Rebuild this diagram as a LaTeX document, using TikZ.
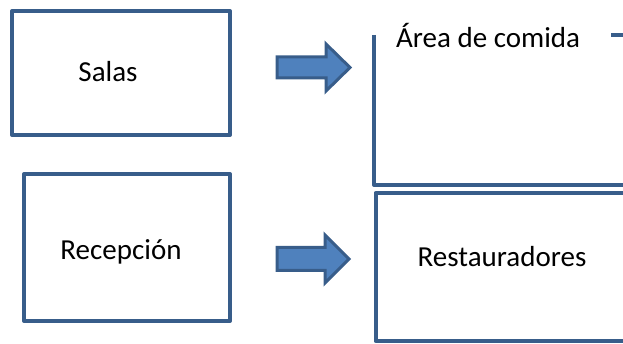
\documentclass[tikz,border=0pt]{standalone}
\usepackage{fontspec}
\setmainfont{Carlito}
\definecolor{boxline}{RGB}{56,93,138}
\definecolor{arrowfill}{RGB}{79,129,189}
\tikzset{
  frame/.style={draw=boxline, line width=4pt, line join=round, fill=white},
  edge/.style={draw=boxline, line width=4pt, line join=round},
  bigarrow/.style={draw=boxline, fill=arrowfill, line width=3pt, line join=miter},
  label/.style={font=\fontsize{29}{34}\selectfont, text=black, inner sep=0pt, anchor=base}
}
\begin{document}
\begin{tikzpicture}[x=1pt,y=-1pt]
\useasboundingbox (0,0) rectangle (623,344);
\clip (0,0) rectangle (623,344);
% left boxes
\node[frame, minimum width=218pt, minimum height=124pt, inner sep=0pt] (salasbox) at (121,73) {};
\node[frame, minimum width=206pt, minimum height=147pt, inner sep=0pt] (recbox) at (127,247.5) {};
\node[label] (salas) at (108,82) {Salas};
\node[label] (recepcion) at (121,260) {Recepción};
% arrows
\draw[bigarrow] (277,57) -- (326,57) -- (326,44) -- (350,67.5) -- (326,91) -- (326,78) -- (277,78) -- cycle;
\draw[bigarrow] (277,247.5) -- (325,247.5) -- (325,235) -- (349,259) -- (325,283) -- (325,270.5) -- (277,270.5) -- cycle;
% right boxes (cut off)
\coordinate (ac1) at (374,35);
\coordinate (ac2) at (374,185);
\coordinate (ac3) at (640,185);
\coordinate (at1) at (611,35);
\coordinate (at2) at (640,35);
\draw[edge] (ac1) -- (ac2) -- (ac3);
\draw[edge] (at1) -- (at2);
\coordinate (rs1) at (640,193);
\coordinate (rs2) at (375.5,193);
\coordinate (rs3) at (375.5,341);
\coordinate (rs4) at (640,341);
\draw[edge] (rs1) -- (rs2) -- (rs3) -- (rs4);
\node[label, anchor=base west] (area) at (396,48) {Área de comida};
\node[label] (rest) at (502,267) {Restauradores};
\end{tikzpicture}
\end{document}
